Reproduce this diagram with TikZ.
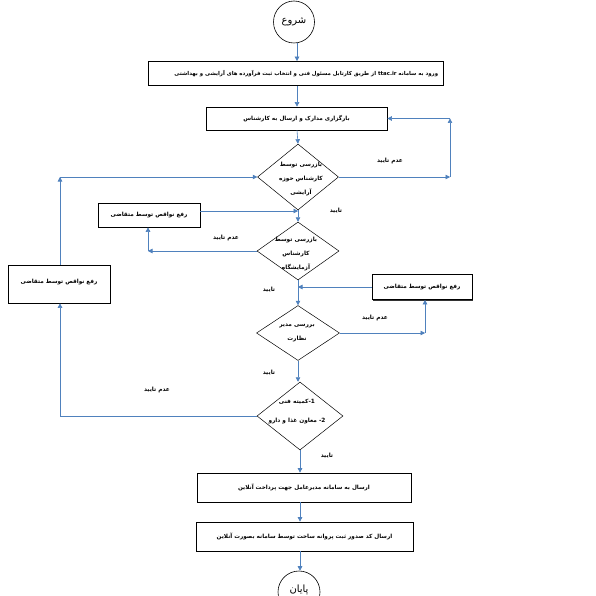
\documentclass[tikz,border=0pt]{standalone}
\usepackage{fontspec}
\usetikzlibrary{shapes.geometric,arrows.meta,shadows}
\TeXXeTstate=1
\newfontfamily\fa[Script=Arabic]{DejaVu Sans}
\definecolor{conn}{RGB}{79,129,189}
\begin{document}
\begin{tikzpicture}[x=1pt,y=-1pt,
 fl/.style={draw=conn, line width=0.6pt, -{Triangle[width=4.5pt,length=4.5pt]}},
 pl/.style={draw=conn, line width=0.6pt},
 box/.style={draw=black, line width=0.7pt, fill=white, rectangle, inner sep=0pt,
   drop shadow={shadow xshift=1pt,shadow yshift=-1pt,fill=black,opacity=0.8},
   font=\fa\bfseries\fontsize{5.7}{7}\selectfont},
 dia/.style={draw=black, line width=0.5pt, diamond, inner sep=0pt, fill=white},
 term/.style={draw=black, line width=0.6pt, ellipse, inner sep=0pt, fill=white,
   font=\fa\fontsize{10}{11}\selectfont},
 lbl/.style={font=\fa\bfseries\fontsize{5.8}{7}\selectfont, inner sep=0pt},
 dtext/.style={font=\fa\bfseries\fontsize{5.8}{14}\selectfont, inner sep=0pt, align=center}
]
\useasboundingbox (0,0) rectangle (596,596);
\fill[white] (0,0) rectangle (596,596);

% nodes
\node[term, minimum width=41pt, minimum height=42pt] (start) at (294,22) {\beginR شروع\endR};
\node[box, minimum width=295pt, minimum height=24pt] (b1) at (295.5,73.5) {};
\node[lbl, font=\fa\bfseries\fontsize{5.4}{7}\selectfont, anchor=east] (b1t) at ([xshift=-5pt]b1.east) {\beginR ورود به سامانه \beginL ttac.ir\endL{} از طریق کارتابل مسئول فنی و انتخاب ثبت فرآورده های آرایشی و بهداشتی\endR};
\node[box, minimum width=181pt, minimum height=23pt] (b2) at (296.5,118.5) {\beginR بارگزاری مدارک و ارسال به کارشناس\endR};

\node[dia, minimum width=81pt, minimum height=66pt] (d1) at (298,177) {};
\node[dtext] (d1t) at (301,179) {\beginR بازرسی توسط\endR\\\beginR کارشناس حوزه\endR\\\beginR آرایشی\endR};

\node[box, minimum width=102pt, minimum height=24pt] (b3) at (149,215) {\beginR رفع نواقص توسط متقاضی\endR};

\node[dia, minimum width=82pt, minimum height=58pt] (d2) at (298,251) {};
\node[dtext] (d2t) at (296,254) {\beginR بازرسی توسط\endR\\\beginR کارشناس\endR\\\beginR آزمایشگاه\endR};

\node[box, minimum width=102pt, minimum height=38pt] (b4) at (59,284) {\raisebox{5pt}{\beginR رفع نواقص توسط متقاضی\endR}};
\node[box, minimum width=100pt, minimum height=25pt] (b5) at (422,287) {\beginR رفع نواقص توسط متقاضی\endR};

\node[dia, minimum width=83pt, minimum height=55pt] (d3) at (298,333) {};
\node[dtext] (d3t) at (297,333.5) {\beginR بررسی مدیر\endR\\\beginR نظارت\endR};

\node[dia, minimum width=86pt, minimum height=68pt] (d4) at (300,416) {};
\node[dtext, font=\fa\bfseries\fontsize{5.8}{19}\selectfont] (d4t) at (297,412) {\beginR 1-کمیته فنی\endR\\\beginR 2- معاون غذا و دارو\endR};

\node[box, minimum width=214pt, minimum height=29pt] (b6) at (304,487.5) {\beginR ارسال به سامانه مدیرعامل جهت پرداخت آنلاین\endR};
\node[box, minimum width=217pt, minimum height=29pt] (b7) at (304.5,536.5) {\beginR ارسال کد صدور ثبت پروانه ساخت توسط سامانه بصورت آنلاین\endR};
\node[term, minimum width=42pt, minimum height=42pt] (end) at (299,592) {\raisebox{7pt}{\beginR پایان\endR}};

% helper coordinates
\coordinate (r1) at (450,177);
\coordinate (r2) at (450,118.5);
\coordinate (l2) at (148,251);
\coordinate (m1) at (298,211);
\coordinate (u1) at (60,177);
\coordinate (u2) at (60,416);
\coordinate (m2) at (298,287);
\coordinate (r3) at (425,333);

% main flow
\draw[fl] (start.south -| 297,0) -- (b1.north -| 297,0);
\draw[fl] (b1.south -| 297,0) -- (b2.north -| 297,0);
\draw[fl] (b2.south -| 297,0) -- (d1.north);
\draw[fl] (d1.south) -- (d2.north);
\draw[fl] (d2.south) -- (d3.north);
\draw[fl] (d3.south) -- (d4.north -| d3.south);
\draw[fl] (d4.south) -- (b6.north -| d4.south);
\draw[fl] (b6.south -| d4.south) -- (b7.north -| d4.south);
\draw[fl] (b7.south -| d4.south) -- (end.north -| d4.south);

% loop 1
\draw[fl] (d1.east) -- (r1);
\draw[fl] (r1) -- (r2);
\draw[fl] (r2) -- (b2.east);
% loop 2
\draw[fl] (d2.west) -- (l2);
\draw[fl] (l2) -- (b3.south -| l2);
\draw[fl] (b3.east |- m1) -- (m1);
% loop 3
\draw[fl] (d3.east) -- (r3);
\draw[fl] (r3) -- (b5.south -| r3);
\draw[fl] (b5.west) -- (m2);
% loop 4
\draw[pl] (d4.west) -- (u2);
\draw[fl] (u2) -- (b4.south -| u2);
\draw[fl] (b4.north -| u1) -- (u1);
\draw[fl] (u1) -- (d1.west);

% labels
\node[lbl] (n1) at (390,161) {\beginR عدم تایید\endR};
\node[lbl] (y1) at (336,211) {\beginR تایید\endR};
\node[lbl] (n2) at (226,238) {\beginR عدم تایید\endR};
\node[lbl] (y2) at (269,290) {\beginR تایید\endR};
\node[lbl] (n3) at (375,318) {\beginR عدم تایید\endR};
\node[lbl] (y3) at (269,373) {\beginR تایید\endR};
\node[lbl] (n4) at (157,390) {\beginR عدم تایید\endR};
\node[lbl] (y4) at (327,456) {\beginR تایید\endR};
\end{tikzpicture}
\end{document}
